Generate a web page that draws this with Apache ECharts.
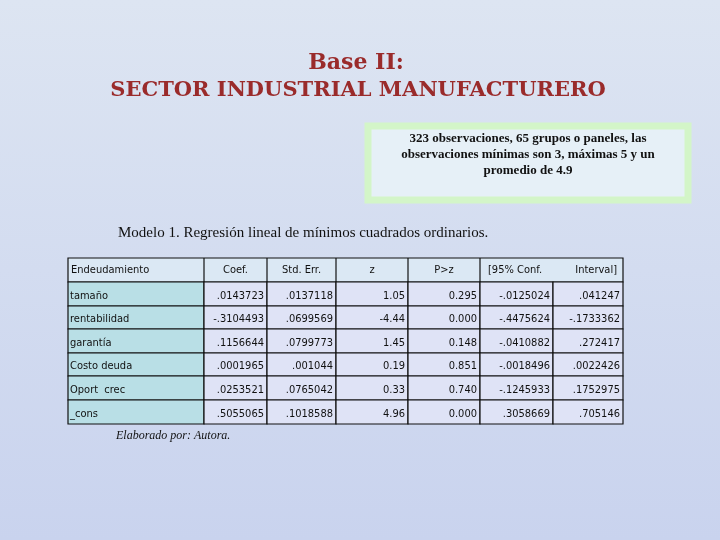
<!DOCTYPE html><html><head><meta charset="utf-8"><script src="https://cdn.jsdelivr.net/npm/echarts@6/dist/echarts.min.js"></script>
<style>html,body{margin:0;padding:0}#c{width:720px;height:540px}</style></head><body><div id="c"></div><script>
const headers=['Endeudamiento','Coef.','Std. Err.','z','P>z','[95% Conf.','Interval]'];
const variables=['tamaño','rentabilidad','garantía','Costo deuda','Oport  crec','_cons'];
const coef=['.0143723','-.3104493','.1156644','.0001965','.0253521','.5055065'];
const stdErr=['.0137118','.0699569','.0799773','.001044','.0765042','.1018588'];
const zVals=['1.05','-4.44','1.45','0.19','0.33','4.96'];
const pVals=['0.295','0.000','0.148','0.851','0.740','0.000'];
const ciLow=['-.0125024','-.4475624','-.0410882','-.0018496','-.1245933','.3058669'];
const ciHigh=['.041247','-.1733362','.272417','.0022426','.1752975','.705146'];
const cols=[68,204,267,336,408,480,553,623];
const rowsY=[258,282,306,329,353,376,400,424];
const g=[];
g.push({type:'rect',shape:{x:0,y:0,width:720,height:540},style:{fill:new echarts.graphic.LinearGradient(0,0,0,1,[{offset:0,color:'#dde5f2'},{offset:1,color:'#c9d3ee'}])},z:0});
g.push({type:'text',style:{x:356,y:52,text:'Base II:',font:'bold 22px "DejaVu Serif"',fill:'#9a2b2b',align:'center'}});
g.push({type:'text',style:{x:358,y:80,text:'SECTOR INDUSTRIAL MANUFACTURERO',font:'bold 21px "DejaVu Serif"',fill:'#9a2b2b',align:'center'}});
g.push({type:'rect',shape:{x:368,y:126,width:320,height:74},style:{fill:'#e6f0f7',stroke:'#d3f5c8',lineWidth:7}});
g.push({type:'text',style:{x:528,y:131,text:'323 observaciones, 65 grupos o paneles, las\nobservaciones mínimas son 3, máximas 5 y un\npromedio de 4.9',font:'bold 13px "Liberation Serif"',lineHeight:16,fill:'#111',align:'center'}});
g.push({type:'text',style:{x:118,y:226,text:'Modelo 1. Regresión lineal de mínimos cuadrados ordinarios.',font:'15px "Liberation Serif"',fill:'#111'}});
const data=[coef,stdErr,zVals,pVals,ciLow,ciHigh];
g.push({type:'rect',shape:{x:cols[0],y:rowsY[0],width:cols[7]-cols[0],height:rowsY[1]-rowsY[0]},style:{fill:'#dbe8f4',stroke:'#111',lineWidth:1.2}});
for(let c=1;c<6;c++)g.push({type:'line',shape:{x1:cols[c],y1:rowsY[0],x2:cols[c],y2:rowsY[1]},style:{stroke:'#111',lineWidth:1.2}});
headers.forEach((h,i)=>{let x,al;
 if(i===0){x=cols[0]+3;al='left'}else if(i===5){x=cols[5]+8;al='left'}else if(i===6){x=cols[7]-6;al='right'}else{x=(cols[i]+cols[i+1])/2;al='center'}
 g.push({type:'text',style:{x:x,y:(rowsY[0]+rowsY[1])/2,text:h,font:'11px "DejaVu Sans Condensed", "Liberation Sans Narrow", sans-serif',fill:'#111',align:al,verticalAlign:'middle'}});});
variables.forEach((v,r)=>{const y0=rowsY[r+1],h=rowsY[r+2]-y0;
 g.push({type:'rect',shape:{x:cols[0],y:y0,width:cols[1]-cols[0],height:h},style:{fill:'#b9dfe6',stroke:'#111',lineWidth:1.2}});
 g.push({type:'text',style:{x:cols[0]+2,y:y0+h/2+2,text:v,font:'11px "DejaVu Sans Condensed", sans-serif',fill:'#111',verticalAlign:'middle'}});
 data.forEach((arr,c)=>{g.push({type:'rect',shape:{x:cols[c+1],y:y0,width:cols[c+2]-cols[c+1],height:h},style:{fill:'#dfe3f6',stroke:'#111',lineWidth:1.2}});
  g.push({type:'text',style:{x:cols[c+2]-3,y:y0+h/2+2,text:arr[r],font:'11px "DejaVu Sans Condensed", sans-serif',fill:'#111',align:'right',verticalAlign:'middle'}});});});
g.push({type:'text',style:{x:116,y:430,text:'Elaborado por: Autora.',font:'italic 12px "Liberation Serif"',fill:'#111'}});
const ch=echarts.init(document.getElementById('c'));
ch.setOption({animation:false,graphic:g});
</script></body></html>
